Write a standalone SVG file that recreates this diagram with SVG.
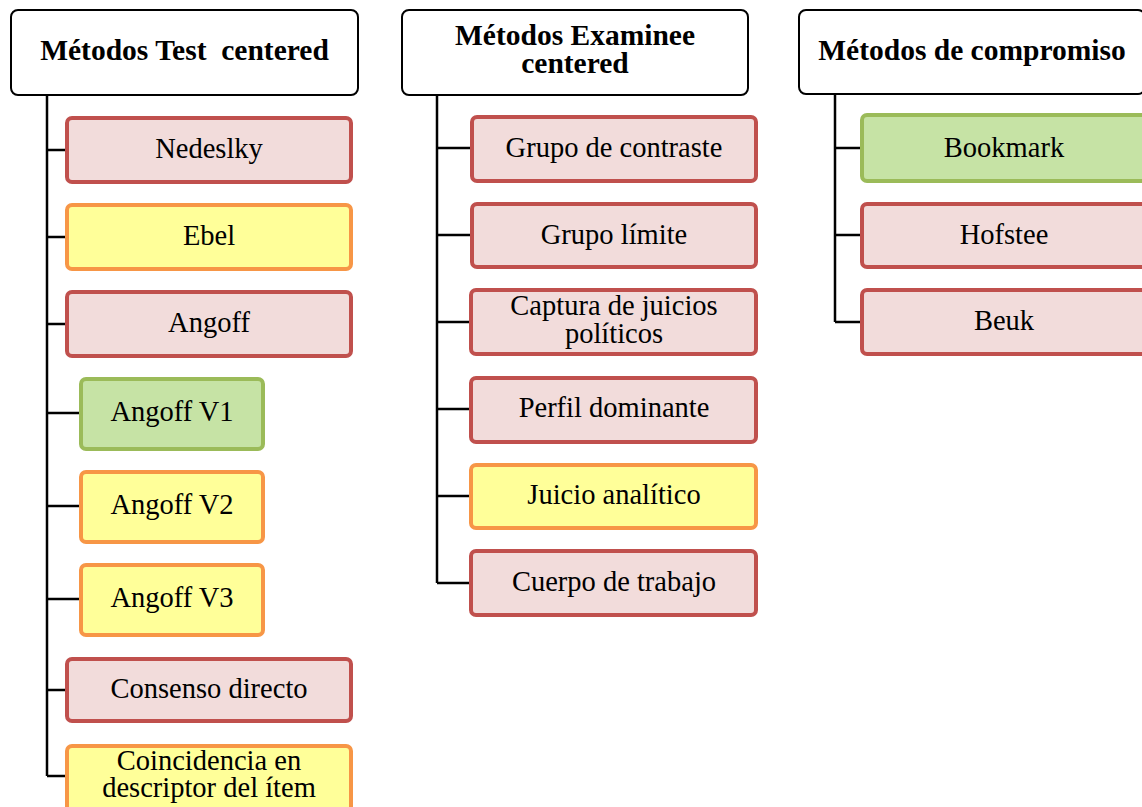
<svg xmlns="http://www.w3.org/2000/svg" width="1142" height="807" viewBox="0 0 1142 807">
<style>
.hdr{fill:#fff;stroke:#000;stroke-width:2}
.red{fill:#F2DCDB;stroke:#C0504D;stroke-width:4}
.org{fill:#FFFF99;stroke:#F79646;stroke-width:4}
.grn{fill:#C6E3A5;stroke:#9BBB59;stroke-width:4}
.ht{font-family:"Liberation Serif",serif;font-weight:bold;font-size:29.5px;fill:#000;text-anchor:middle;white-space:pre}
.t{font-family:"Liberation Serif",serif;font-size:28.5px;fill:#000;text-anchor:middle}
.ln{stroke:#000;stroke-width:2.5;fill:none}
</style>
<rect width="1142" height="807" fill="#fff"/>
<g id="connectors">
<path class="ln" d="M47 95V776M47 150H65M47 237H65M47 324H65M47 413H79M47 506H79M47 599H79M47 690H65M47 776H65"/>
<path class="ln" d="M437 95V583M437 148H470M437 235H470M437 322H470M437 409H470M437 496H470M437 583H470"/>
<path class="ln" d="M835 93V322M835 148H860M835 235H860M835 322H860"/>
</g>
<g id="h1"><rect class="hdr" x="11" y="10" width="347" height="85" rx="7"/><text class="ht" x="184.5" y="60">Métodos Test  centered</text></g>
<g id="h2"><rect class="hdr" x="402" y="10" width="346" height="85" rx="7"/><text class="ht" x="575" y="45">Métodos Examinee</text><text class="ht" x="575" y="73">centered</text></g>
<g id="h3"><rect class="hdr" x="799" y="10" width="346" height="84" rx="7"/><text class="ht" x="972" y="60">Métodos de compromiso</text></g>

<g id="n_nedeslky"><rect class="red" x="67" y="118" width="284" height="64" rx="5"/><text class="t" x="209" y="158">Nedeslky</text></g>
<g id="n_ebel"><rect class="org" x="67" y="205" width="284" height="64" rx="5"/><text class="t" x="209" y="245">Ebel</text></g>
<g id="n_angoff"><rect class="red" x="67" y="292" width="284" height="64" rx="5"/><text class="t" x="209" y="332">Angoff</text></g>
<g id="n_angoffv1"><rect class="grn" x="81" y="379" width="182" height="70" rx="5"/><text class="t" x="172" y="421">Angoff V1</text></g>
<g id="n_angoffv2"><rect class="org" x="81" y="472" width="182" height="70" rx="5"/><text class="t" x="172" y="514">Angoff V2</text></g>
<g id="n_angoffv3"><rect class="org" x="81" y="565" width="182" height="70" rx="5"/><text class="t" x="172" y="607">Angoff V3</text></g>
<g id="n_consenso"><rect class="red" x="67" y="659" width="284" height="62" rx="5"/><text class="t" x="209" y="698">Consenso directo</text></g>
<g id="n_coincidencia"><rect class="org" x="67" y="746" width="284" height="70" rx="5"/><text class="t" x="209" y="770">Coincidencia en</text><text class="t" x="209" y="797">descriptor del ítem</text></g>

<g id="n_contraste"><rect class="red" x="472" y="117" width="284" height="64" rx="5"/><text class="t" x="614" y="157">Grupo de contraste</text></g>
<g id="n_limite"><rect class="red" x="472" y="204" width="284" height="63" rx="5"/><text class="t" x="614" y="244">Grupo límite</text></g>
<g id="n_captura"><rect class="red" x="471" y="290" width="285" height="64" rx="5"/><text class="t" x="614" y="315">Captura de juicios</text><text class="t" x="614" y="343">políticos</text></g>
<g id="n_perfil"><rect class="red" x="471" y="378" width="285" height="64" rx="5"/><text class="t" x="614" y="417">Perfil dominante</text></g>
<g id="n_juicio"><rect class="org" x="471" y="465" width="285" height="63" rx="5"/><text class="t" x="614" y="504">Juicio analítico</text></g>
<g id="n_cuerpo"><rect class="red" x="471" y="551" width="285" height="64" rx="5"/><text class="t" x="614" y="591">Cuerpo de trabajo</text></g>

<g id="n_bookmark"><rect class="grn" x="862" y="115" width="285" height="66" rx="5"/><text class="t" x="1004" y="157">Bookmark</text></g>
<g id="n_hofstee"><rect class="red" x="862" y="204" width="285" height="63" rx="5"/><text class="t" x="1004" y="244">Hofstee</text></g>
<g id="n_beuk"><rect class="red" x="862" y="290" width="285" height="64" rx="5"/><text class="t" x="1004" y="330">Beuk</text></g>
</svg>
